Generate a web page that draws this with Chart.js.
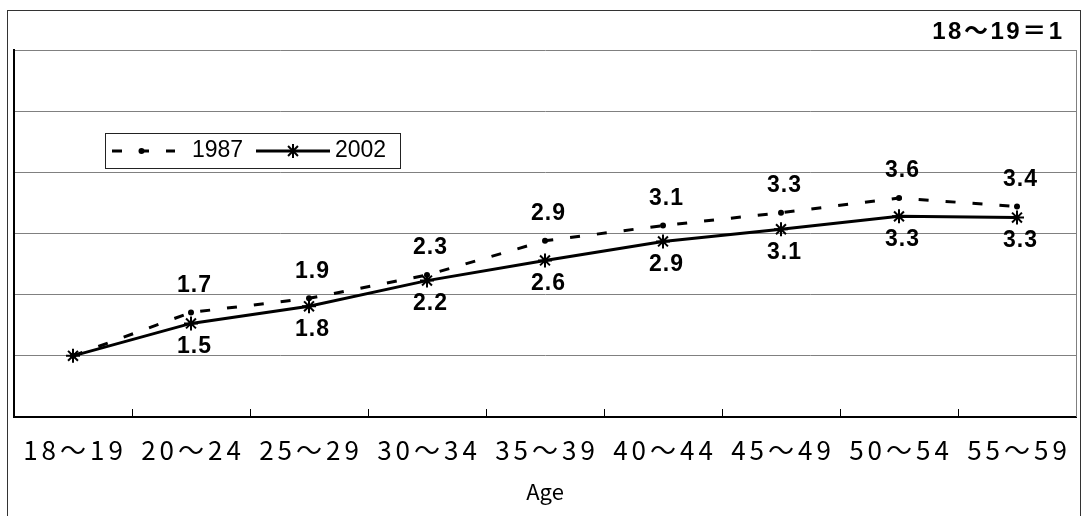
<!DOCTYPE html>
<html>
<head>
<meta charset="utf-8">
<script src="https://cdn.jsdelivr.net/npm/chart.js@4.4.1/dist/chart.umd.min.js"></script>
<style>
  html, body { margin: 0; padding: 0; background: #fff; }
  #wrap { width: 1089px; height: 516px; }
</style>
</head>
<body>
<div id="wrap"><canvas id="ageChart" width="1089" height="516"></canvas></div>
<script>
// --- DATA ---
const ageGroups = ['18～19', '20～24', '25～29', '30～34', '35～39', '40～44', '45～49', '50～54', '55～59'];
// wage index by age group (18～19 = 1)
const wage1987 = [1.0, 1.71, 1.94, 2.32, 2.88, 3.13, 3.34, 3.58, 3.44];
const wage2002 = [1.0, 1.53, 1.81, 2.23, 2.56, 2.87, 3.07, 3.28, 3.26];
const seriesNames = ['1987', '2002'];
const yTicks = [0, 1, 2, 3, 4, 5, 6];
const noteText = '18～19＝1';
const axisTitle = 'Age';

const GRID_GREY = '#808080';
const TICK_SPACING = 4;   // gothic-like spacing of the age labels

// helper: text with letter spacing
function spacedText(ctx, text, x, y, spacing, align) {
    ctx.letterSpacing = spacing + 'px';
    ctx.textAlign = align || 'center';
    const shift = align === 'right' ? spacing : spacing / 2;
    ctx.fillText(text, x + shift, y);
    ctx.letterSpacing = '0px';
}

// --- DECORATIONS: frame, labels, legend ---
const decorPlugin = {
    id: 'decor',
    beforeDraw(chart) {
        const ctx = chart.ctx;
        ctx.save();
        ctx.fillStyle = '#fff';
        ctx.fillRect(0, 0, chart.width, chart.height);
        ctx.strokeStyle = '#333';
        ctx.lineWidth = 1;
        ctx.strokeRect(7.5, 10.5, 1073, 520);
        ctx.restore();
    },
    afterDatasetsDraw(chart) {
        // the x tick labels are drawn right after this (ticks.z = 1)
        const ctx = chart.ctx;
        ctx.save();
        ctx.translate(TICK_SPACING / 2, 0);
        ctx.letterSpacing = TICK_SPACING + 'px';
    },
    afterDraw(chart) {
        const ctx = chart.ctx;
        ctx.restore();
        ctx.letterSpacing = '0px';
        const area = chart.chartArea;

        // right edge of plot area
        ctx.save();
        ctx.strokeStyle = GRID_GREY;
        ctx.lineWidth = 1;
        ctx.beginPath();
        ctx.moveTo(Math.round(area.right) + 0.5, area.top);
        ctx.lineTo(Math.round(area.right) + 0.5, area.bottom);
        ctx.stroke();

        // value labels: 1987 above, 2002 below
        ctx.fillStyle = '#000';
        ctx.font = 'bold 23px "Liberation Sans", Arial, sans-serif';
        ctx.textBaseline = 'middle';
        chart.data.datasets.forEach((ds, i) => {
            const meta = chart.getDatasetMeta(i);
            const dy = ds.label === '1987' ? -27 : 23;
            meta.data.forEach((pt, j) => {
                if (j === 0) return; // base group, no label
                spacedText(ctx, ds.data[j].toFixed(1), pt.x + 3, pt.y + dy, 1);
            });
        });

        // note top right
        ctx.font = 'bold 24px "Liberation Sans", "Noto Sans CJK JP", sans-serif';
        spacedText(ctx, noteText, 1062, 32, 2.5, 'right');

        // legend box inside the plot
        const lx = 105, ly = 133, lw = 295, lh = 35, my = ly + 18;
        ctx.strokeStyle = '#222';
        ctx.lineWidth = 1;
        ctx.strokeRect(lx + 0.5, ly + 0.5, lw, lh);

        const samples = [
            { x0: 112, x1: 175, tx: 192 },
            { x0: 256, x1: 330, tx: 335 }
        ];
        seriesNames.forEach((name, k) => {
            const ds = chart.data.datasets.find(d => d.label === name);
            const s = samples[k];
            ctx.save();
            ctx.strokeStyle = ds.borderColor;
            ctx.lineWidth = ds.borderWidth;
            ctx.setLineDash(ds.borderDash || []);
            ctx.beginPath();
            ctx.moveTo(s.x0, my);
            ctx.lineTo(s.x1, my);
            ctx.stroke();
            ctx.restore();
            ctx.save();
            ctx.fillStyle = ds.pointBackgroundColor;
            ctx.strokeStyle = ds.pointBorderColor;
            ctx.lineWidth = ds.pointBorderWidth;
            Chart.helpers.drawPoint(ctx, {
                pointStyle: ds.pointStyle,
                radius: ds.pointRadius,
                borderWidth: ds.pointBorderWidth,
                rotation: 0
            }, (s.x0 + s.x1) / 2 + (k === 0 ? -2 : 0), my);
            ctx.restore();
            ctx.fillStyle = '#000';
            ctx.font = '23px "Liberation Sans", Arial, sans-serif';
            ctx.textAlign = 'left';
            ctx.fillText(name, s.tx, my);
        });
        ctx.restore();
    }
};

// --- CHART ---
const ctx = document.getElementById('ageChart').getContext('2d');
new Chart(ctx, {
    type: 'line',
    data: {
        labels: ageGroups,
        datasets: [
            {
                label: seriesNames[0],
                data: wage1987,
                borderColor: '#000',
                borderWidth: 3,
                borderDash: [10, 17],
                pointStyle: 'circle',
                pointRadius: 3,
                pointBackgroundColor: '#000',
                pointBorderColor: '#000',
                pointBorderWidth: 0,
                tension: 0,
                order: 1
            },
            {
                label: seriesNames[1],
                data: wage2002,
                borderColor: '#000',
                borderWidth: 3,
                pointStyle: 'star',
                pointRadius: 7,
                pointBackgroundColor: '#000',
                pointBorderColor: '#000',
                pointBorderWidth: 2,
                tension: 0,
                order: 0
            }
        ]
    },
    options: {
        responsive: false,
        devicePixelRatio: 1,
        animation: false,
        events: [],
        layout: { padding: { left: 14, top: 50, right: 13, bottom: 0 } },
        plugins: {
            legend: { display: false },
            tooltip: { enabled: false }
        },
        scales: {
            x: {
                offset: true,
                afterFit(scale) { scale.height = 99; },
                grid: {
                    display: true,
                    drawOnChartArea: false,
                    drawTicks: true,
                    tickLength: -8,
                    offset: true,
                    color: '#000',
                    lineWidth: 1
                },
                border: { display: true, color: '#000', width: 2 },
                ticks: {
                    z: 1,
                    color: '#000',
                    padding: 26,
                    autoSkip: false,
                    maxRotation: 0,
                    font: { family: '"Noto Sans CJK JP", sans-serif', size: 26 }
                },
                title: {
                    display: true,
                    text: axisTitle,
                    color: '#000',
                    padding: { top: 0, bottom: 11 },
                    font: { family: '"Noto Sans CJK JP", sans-serif', size: 22 }
                }
            },
            y: {
                min: yTicks[0],
                max: yTicks[yTicks.length - 1],
                afterFit(scale) { scale.width = 0; },
                afterBuildTicks(scale) { scale.ticks = yTicks.map(v => ({ value: v })); },
                grid: { color: GRID_GREY, lineWidth: 1, drawTicks: false },
                border: { display: true, color: '#000', width: 2 },
                ticks: { display: false }
            }
        }
    },
    plugins: [decorPlugin]
});
</script>
</body>
</html>
